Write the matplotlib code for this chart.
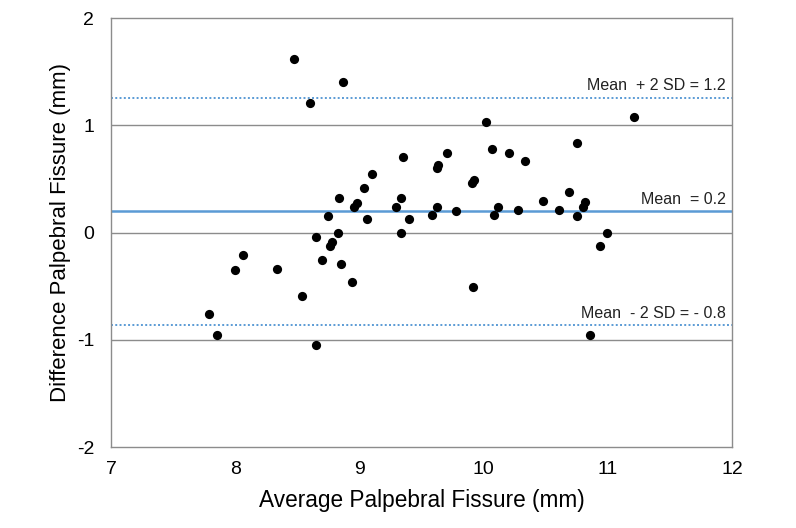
import matplotlib
matplotlib.use("Agg")
import matplotlib.pyplot as plt

plt.rcParams['font.family'] = ['Liberation Sans', 'DejaVu Sans']

avg_fissure = [8.476, 8.602, 8.871, 7.792, 7.853, 7.998, 8.065, 8.334, 8.538, 8.648,
               8.648, 8.745, 8.702, 8.763, 8.779, 8.828, 8.832, 8.852, 8.940, 8.957,
               8.981, 9.041, 9.064, 9.105, 9.295, 9.333, 9.335, 9.354, 9.397, 9.582,
               9.622, 9.622, 9.635, 9.705, 9.778, 9.907, 9.923, 9.917, 10.019, 10.065,
               10.084, 10.119, 10.205, 10.275, 10.333, 10.476, 10.605, 10.688, 10.749, 10.749,
               10.798, 10.816, 10.854, 10.937, 10.996, 11.209]
diff_fissure = [1.615, 1.205, 1.403, -0.760, -0.956, -0.350, -0.213, -0.337, -0.589, -1.046,
                -0.045, 0.151, -0.260, -0.123, -0.092, -0.008, 0.319, -0.294, -0.465, 0.241,
                0.272, 0.412, 0.126, 0.543, 0.241, -0.008, 0.319, 0.704, 0.126, 0.163,
                0.241, 0.598, 0.625, 0.738, 0.203, 0.458, 0.490, -0.508, 1.033, 0.782,
                0.163, 0.238, 0.741, 0.207, 0.664, 0.294, 0.207, 0.375, 0.834, 0.154,
                0.235, 0.287, -0.956, -0.126, -0.002, 1.074]

mean_diff = 0.2
upper_loa = 1.257
lower_loa = -0.862
labels = ["Mean  + 2 SD = 1.2", "Mean  = 0.2", "Mean  - 2 SD = - 0.8"]
x_ticks = [7, 8, 9, 10, 11, 12]
y_ticks = [-2, -1, 0, 1, 2]

fig = plt.figure(figsize=(7.96, 5.28), dpi=100)
ax = fig.add_axes([0.1394, 0.1534, 0.7802, 0.8125])

blue = '#5B9BD5'
grid = '#8c8c8c'
for yv in [-1, 0, 1]:
    ax.axhline(yv, color=grid, lw=1.0, zorder=1)
ax.axhline(mean_diff, color=blue, lw=1.8, zorder=2)
ax.axhline(upper_loa, color=blue, lw=1.4, ls=(0, (1, 1.2)), zorder=2)
ax.axhline(lower_loa, color=blue, lw=1.4, ls=(0, (1, 1.2)), zorder=2)

ax.scatter(avg_fissure, diff_fissure, s=44, color='black', zorder=3, linewidths=0)

for yv, txt in zip([upper_loa, mean_diff, lower_loa], labels):
    ax.text(11.95, yv + 0.04, txt, ha='right', va='bottom', fontsize=11.5, color='#222222')

ax.set_xlim(7, 12)
ax.set_ylim(-2, 2)
ax.set_xticks(x_ticks)
ax.set_yticks(y_ticks)
ax.set_yticklabels([str(v) for v in y_ticks])
ax.tick_params(length=0, labelsize=14)
ax.tick_params(axis='y', pad=12)
ax.tick_params(axis='x', pad=10)
for s in ax.spines.values():
    s.set_color(grid)
    s.set_linewidth(1.0)

ax.set_xlabel("Average Palpebral Fissure (mm)", fontsize=16.3, labelpad=8)
ax.set_ylabel("Difference Palpebral Fissure (mm)", fontsize=16, labelpad=4)

fig.savefig("out.png", dpi=100)
